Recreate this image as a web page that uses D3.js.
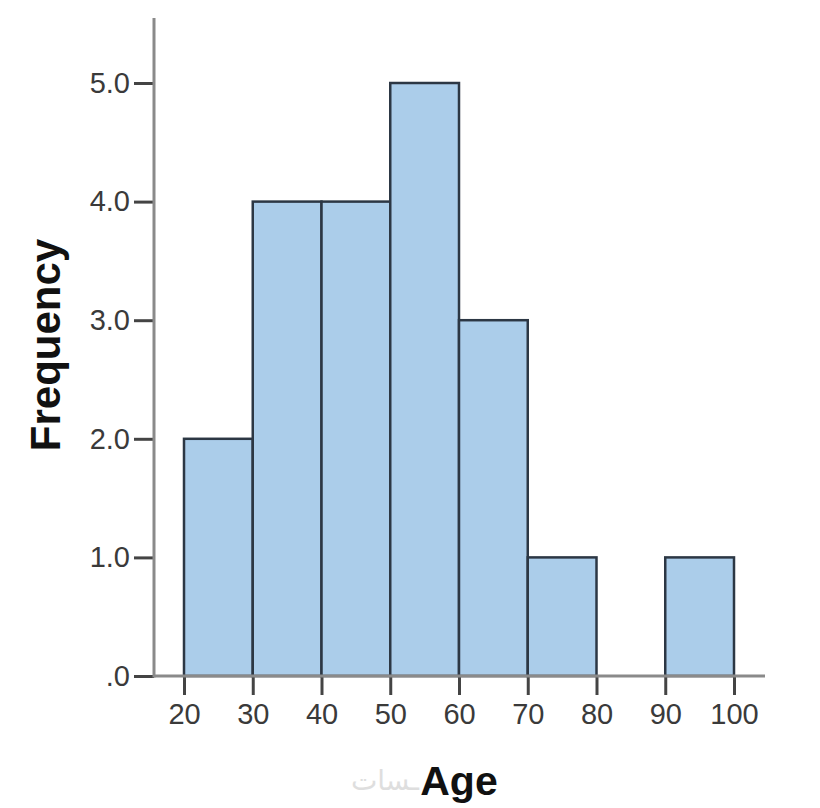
<!DOCTYPE html>
<html>
<head>
<meta charset="utf-8">
<script src="https://cdn.jsdelivr.net/npm/d3@7"></script>
<style>
  html, body { margin: 0; padding: 0; background: #ffffff; }
  svg { display: block; }
</style>
</head>
<body>
<svg id="chart" width="820" height="808"></svg>
<script>
// ---- data ----
const binStarts = [20, 30, 40, 50, 60, 70, 80, 90];
const binEnds   = [30, 40, 50, 60, 70, 80, 90, 100];
const frequencies = [2, 4, 4, 5, 3, 1, 0, 1];
const xTickValues = [20, 30, 40, 50, 60, 70, 80, 90, 100];
const yTickValues = [0, 1, 2, 3, 4, 5];
const yTickLabels = [".0", "1.0", "2.0", "3.0", "4.0", "5.0"];
const xTitle = "Age";
const yTitle = "Frequency";
const watermark = "ـسات";

const svg = d3.select("#chart");

const x = d3.scaleLinear().domain([20, 100]).range([184, 734]);
const y = d3.scaleLinear().domain([0, 5]).range([676, 83]);

const axisColor = "#8a8a8a";
const tickColor = "#444";
const labelColor = "#3a3a3a";

// bars
svg.append("g").selectAll("rect")
  .data(binStarts.map((s, i) => ({ s, e: binEnds[i], f: frequencies[i] })).filter(d => d.f > 0))
  .join("rect")
  .attr("x", d => x(d.s))
  .attr("y", d => y(d.f))
  .attr("width", d => x(d.e) - x(d.s))
  .attr("height", d => y(0) - y(d.f))
  .attr("fill", "#abcdea")
  .attr("stroke", "#2c3744")
  .attr("stroke-width", 2.5);

// x axis
const xAxis = d3.axisBottom(x)
  .tickValues(xTickValues)
  .tickFormat(d3.format("d"))
  .tickSize(19)
  .tickSizeOuter(0)
  .tickPadding(8);
const gx = svg.append("g").attr("transform", `translate(0,${y(0)})`).call(xAxis);
gx.select(".domain").remove();
gx.selectAll(".tick line").attr("stroke", tickColor).attr("stroke-width", 3);
gx.selectAll(".tick text")
  .attr("fill", labelColor)
  .style("font-family", "'Liberation Sans', Arial, sans-serif")
  .style("font-size", "29px");

// x axis baseline
svg.append("line")
  .attr("x1", 154).attr("x2", 765)
  .attr("y1", y(0)).attr("y2", y(0))
  .attr("stroke", axisColor).attr("stroke-width", 3);

// y axis
const yAxis = d3.axisLeft(y)
  .tickValues(yTickValues)
  .tickFormat((d, i) => yTickLabels[i])
  .tickSize(20)
  .tickSizeOuter(0)
  .tickPadding(4);
const gy = svg.append("g").attr("transform", "translate(154,0)").call(yAxis);
gy.select(".domain").remove();
gy.selectAll(".tick line").attr("stroke", tickColor).attr("stroke-width", 3);
gy.selectAll(".tick text")
  .attr("fill", labelColor)
  .style("font-family", "'Liberation Sans', Arial, sans-serif")
  .style("font-size", "29px");

svg.append("line")
  .attr("x1", 154).attr("x2", 154)
  .attr("y1", 18).attr("y2", y(0) + 1.5)
  .attr("stroke", axisColor).attr("stroke-width", 3);

// watermark fragment visible left of the x title
svg.append("text")
  .attr("x", 419).attr("y", 790)
  .attr("text-anchor", "end")
  .attr("fill", "#dedede")
  .style("font-family", "'DejaVu Sans', sans-serif")
  .style("font-size", "28px")
  .text(watermark);

// titles
svg.append("text")
  .attr("x", 459).attr("y", 795)
  .attr("text-anchor", "middle")
  .attr("fill", "#111")
  .style("font-family", "'Liberation Sans', Arial, sans-serif")
  .style("font-weight", "bold")
  .style("font-size", "41px")
  .text(xTitle);

svg.append("text")
  .attr("transform", "translate(60,345) rotate(-90)")
  .attr("text-anchor", "middle")
  .attr("fill", "#111")
  .style("font-family", "'Liberation Sans', Arial, sans-serif")
  .style("font-weight", "bold")
  .style("font-size", "42px")
  .text(yTitle);
</script>
</body>
</html>
